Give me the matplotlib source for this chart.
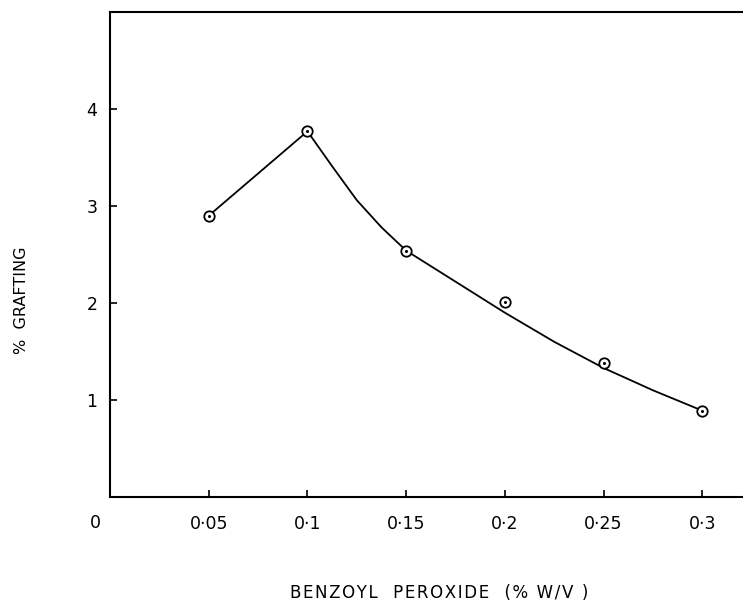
import matplotlib
matplotlib.use("Agg")
import matplotlib.pyplot as plt
from matplotlib.transforms import blended_transform_factory

# Measured points
bpo = [0.05, 0.10, 0.15, 0.20, 0.25, 0.30]
grafting = [2.90, 3.77, 2.54, 2.01, 1.38, 0.89]

# Hand-drawn trend line
line_x = [0.05, 0.10, 0.1125, 0.125, 0.1375, 0.15, 0.175, 0.20, 0.225, 0.25, 0.275, 0.30]
line_y = [2.90, 3.77, 3.41, 3.06, 2.78, 2.54, 2.22, 1.90, 1.60, 1.33, 1.10, 0.89]

xticks = [0.05, 0.10, 0.15, 0.20, 0.25, 0.30]
xticklabels = ["0\u00b705", "0\u00b71", "0\u00b715", "0\u00b72", "0\u00b725", "0\u00b73"]
yticks = [1, 2, 3, 4]
yticklabels = ["1", "2", "3", "4"]
xlabel = "BENZOYL  PEROXIDE  (% W/V )"
ylabel = "%  GRAFTING"


def spaced(s):
    return "\u200a".join(s)


plt.rcParams['font.family'] = ['DejaVu Sans']
fig = plt.figure(figsize=(7.43, 6.04), dpi=100)
ax = fig.add_axes([110/743, 1-497/604, 1-110/743, (497-12)/604])

ax.plot(line_x, line_y, color='black', lw=1.3, solid_capstyle='round',
        solid_joinstyle='round')
ax.plot(bpo, grafting, linestyle='none', marker='o', markersize=7.5,
        markerfacecolor='white', markeredgecolor='black', markeredgewidth=1.3)
ax.plot(bpo, grafting, linestyle='none', marker='o', markersize=1.2,
        color='black')

ax.set_xlim(0, 0.3206)
ax.set_ylim(0, 5)
ax.set_xticks(xticks)
ax.set_xticklabels(xticklabels, fontsize=12.5)
ax.set_yticks(yticks)
ax.set_yticklabels(yticklabels, fontsize=12.5)
ax.tick_params(axis='x', direction='in', length=5, width=1.2, pad=13)
ax.tick_params(axis='y', direction='in', length=5, width=1.2, pad=9)

for s in ['left', 'top', 'bottom']:
    ax.spines[s].set_linewidth(1.5)
ax.spines['right'].set_visible(False)

trans = blended_transform_factory(ax.transData, ax.transAxes)
ax.text(-0.0074, -26/485, "0", transform=trans, ha='center', va='center',
        fontsize=12.5, clip_on=False)

fig.text(439/743, 1-593/604, spaced(xlabel),
         ha='center', va='center', fontsize=12)
fig.text(22/743, 1-300/604, ylabel, rotation=90,
         ha='center', va='center', fontsize=11.5)

fig.savefig("out.png", dpi=100)
